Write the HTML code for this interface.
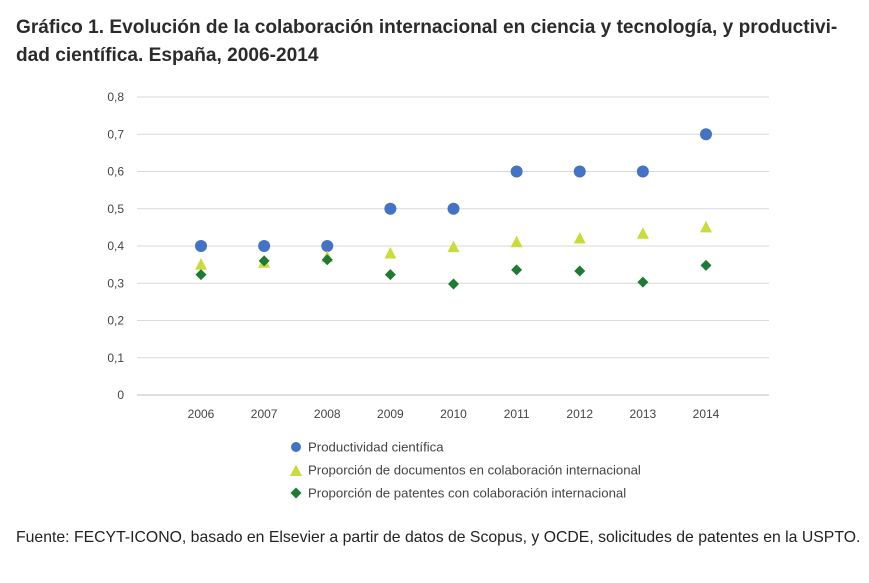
<!DOCTYPE html>
<html><head><meta charset="utf-8"><style>
body{margin:0;background:#fff;font-family:"Liberation Sans",sans-serif;}
#wrap{position:relative;width:869px;height:583px;overflow:hidden;}
.title{position:absolute;left:16px;top:14px;font-size:19.1px;font-weight:bold;color:#2b2b2b;line-height:28px;width:860px;}
.src{position:absolute;left:16px;top:529px;font-size:15.8px;color:#222;}
</style></head><body>
<div id="wrap">
<div class="title">Gráfico 1. Evolución de la colaboración internacional en ciencia y tecnología, y productivi-<br>dad científica. España, 2006-2014</div>
<svg id="chart" width="869" height="583" style="position:absolute;left:0;top:0"></svg>
<div class="src">Fuente: FECYT-ICONO, basado en Elsevier a partir de datos de Scopus, y OCDE, solicitudes de patentes en la USPTO.</div>
</div>
<script>
const years=["2006","2007","2008","2009","2010","2011","2012","2013","2014"];
const productividad=[0.4,0.4,0.4,0.5,0.5,0.6,0.6,0.6,0.7];
const documentos=[0.35,0.355,0.37,0.38,0.397,0.41,0.42,0.433,0.45];
const patentes=[0.323,0.36,0.363,0.323,0.298,0.336,0.333,0.303,0.348];
const yTicks=["0","0,1","0,2","0,3","0,4","0,5","0,6","0,7","0,8"];
const NS="http://www.w3.org/2000/svg";
const svg=document.getElementById('chart');
const x0=137,x1=769,yb=395,yt=97;
const xs=i=>201+i*(706-201)/(years.length-1);
const ys=v=>yb-(v/0.8)*(yb-yt);
function el(t,a){const e=document.createElementNS(NS,t);for(const k in a)e.setAttribute(k,a[k]);svg.appendChild(e);return e;}
yTicks.forEach((t,i)=>{const y=ys(i*0.1);
const g=el('line',{x1:x0,x2:x1,y1:y,y2:y,stroke:i===0?'#bfbfbf':'#d9d9d9','stroke-width':1});


const tx=el('text',{x:124,y:y+4,'text-anchor':'end','font-size':12,fill:'#444'});tx.textContent=t;

});
years.forEach((yr,i)=>{const tx=el('text',{x:xs(i),y:418,'text-anchor':'middle','font-size':12,fill:'#444'});tx.textContent=yr;

});
function tri(x,y,c){return el('polygon',{points:`${x},${y-6.5} ${x-6},${y+5} ${x+6},${y+5}`,fill:c});}
function dia(x,y,c){return el('polygon',{points:`${x},${y-5.5} ${x+5.5},${y} ${x},${y+5.5} ${x-5.5},${y}`,fill:c});}
years.forEach((yr,i)=>{
const c=el('circle',{cx:xs(i),cy:ys(productividad[i]),r:6,fill:'#4472c4'});


const t=tri(xs(i),ys(documentos[i]),'#c9dc3c');


const d=dia(xs(i),ys(patentes[i]),'#1e7b34');

});
const leg=[["Productividad científica",'c','#4472c4'],["Proporción de documentos en colaboración internacional",'t','#c9dc3c'],["Proporción de patentes con colaboración internacional",'d','#1e7b34']];
leg.forEach((l,i)=>{const y=447+i*23;let m;
if(l[1]==='c')m=el('circle',{cx:296,cy:y,r:5,fill:l[2]});else if(l[1]==='t')m=tri(296,y+1,l[2]);else m=dia(296,y,l[2]);


const tx=el('text',{x:308,y:y+4.5,'font-size':13.2,fill:'#444'});tx.textContent=l[0];

});
</script>
</body></html>
